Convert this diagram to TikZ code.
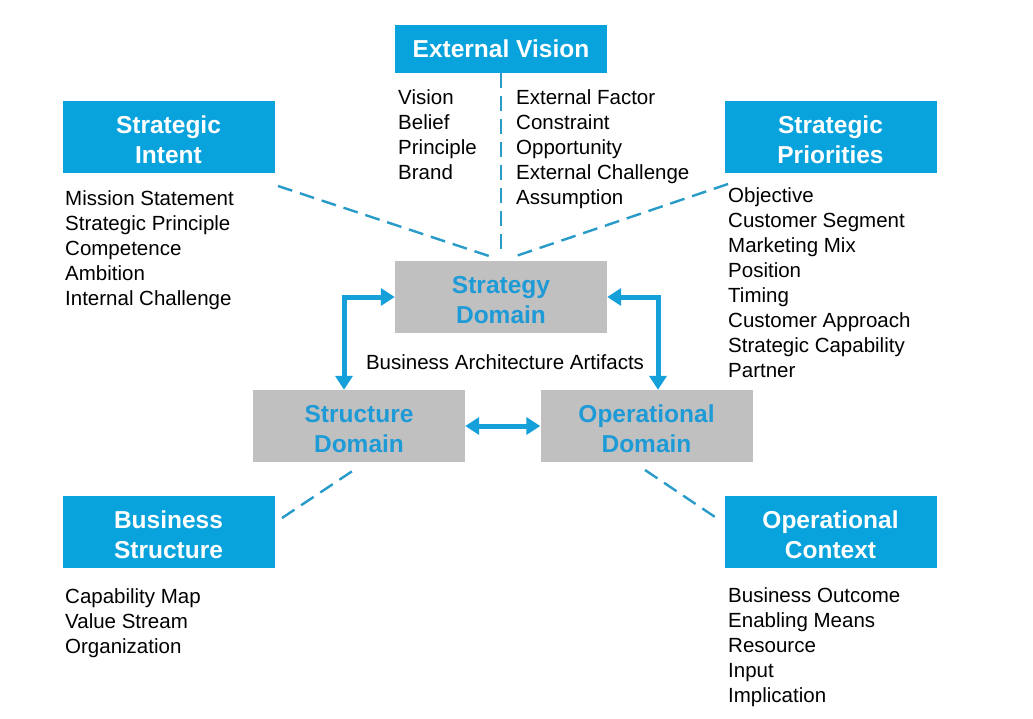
\documentclass[tikz,border=0pt]{standalone}
\usepackage{fontspec}
\setmainfont{Liberation Sans}
\usetikzlibrary{arrows.meta}
\definecolor{boxblue}{RGB}{8,163,220}
\definecolor{dashblue}{RGB}{40,155,200}
\definecolor{arrowblue}{RGB}{22,160,218}
\definecolor{domgray}{RGB}{192,192,192}
\definecolor{domtext}{RGB}{30,155,215}
\newcommand{\toplift}{\rule{0pt}{24pt}}
\begin{document}
\begin{tikzpicture}[x=1pt,y=-1pt,
  titlebox/.style={fill=boxblue,text=white,inner sep=0pt,minimum width=212pt,minimum height=72pt,align=center,font=\fontsize{24.5}{30}\selectfont\bfseries},
  dombox/.style={fill=domgray,text=domtext,inner sep=0pt,minimum width=212pt,minimum height=72pt,align=center,font=\fontsize{24.5}{30}\selectfont\bfseries},
  listtext/.style={inner sep=0pt,align=left,anchor=base west,font=\fontsize{20.5}{25}\selectfont},
  dashline/.style={draw=dashblue,line width=2.4pt,dash pattern=on 15pt off 8pt},
  biarrow/.style={draw=arrowblue,line width=5pt,{Triangle[length=14pt,width=17pt]}-{Triangle[length=14pt,width=17pt]}}
]
\useasboundingbox (0,0) rectangle (1033,718);
\fill[white] (0,0) rectangle (1033,718);

% title boxes
\node[titlebox,minimum height=48pt] (ev) at (501,49) {External Vision};
\node[titlebox] (si) at (168.5,136.5) {\toplift Strategic\\Intent};
\node[titlebox] (sp) at (830.5,136.5) {\toplift Strategic\\Priorities};
\node[titlebox] (bs) at (168.5,532) {\toplift Business\\Structure};
\node[titlebox] (oc) at (830.5,532) {\toplift Operational\\Context};

% domain boxes
\node[dombox] (sd) at (501,297) {\toplift Strategy\\Domain};
\node[dombox] (std) at (359,426) {\toplift Structure\\Domain};
\node[dombox] (od) at (646.5,426) {\toplift Operational\\Domain};

% lists (anchored at the baseline of their last line)
\node[listtext] (l1) at (398,179) {Vision\\Belief\\Principle\\Brand};
\node[listtext] (l2) at (516,204) {External Factor\\Constraint\\Opportunity\\External Challenge\\Assumption};
\node[listtext] (l3) at (65,305) {Mission Statement\\Strategic Principle\\Competence\\Ambition\\Internal Challenge};
\node[listtext] (l4) at (728,377) {Objective\\Customer Segment\\Marketing Mix\\Position\\Timing\\Customer Approach\\Strategic Capability\\Partner};
\node[listtext] (l5) at (65,653) {Capability Map\\Value Stream\\Organization};
\node[listtext] (l6) at (728,702) {Business Outcome\\Enabling Means\\Resource\\Input\\Implication};
\node[inner sep=0pt,font=\fontsize{20.5}{25}\selectfont] (baa) at (505,362) {Business Architecture Artifacts};

% dashed connectors
\coordinate (evend) at (501,256);
\coordinate (sia) at (278,186);
\coordinate (sib) at (489,256);
\coordinate (spa) at (728,184);
\coordinate (spb) at (516,256);
\coordinate (bsa) at (282,518);
\coordinate (bsb) at (354,470);
\coordinate (oca) at (645,470);
\coordinate (ocb) at (718,519);
\draw[dashline] (ev.south) -- (evend);
\draw[dashline] (sia) -- (sib);
\draw[dashline] (spa) -- (spb);
\draw[dashline] (bsa) -- (bsb);
\draw[dashline] (oca) -- (ocb);

% arrows
\draw[biarrow] (sd.west) -| (std.north -| 344,0);
\draw[biarrow] (sd.east) -| (od.north -| 658,0);
\draw[biarrow] (std.east) -- (od.west);
\end{tikzpicture}
\end{document}
